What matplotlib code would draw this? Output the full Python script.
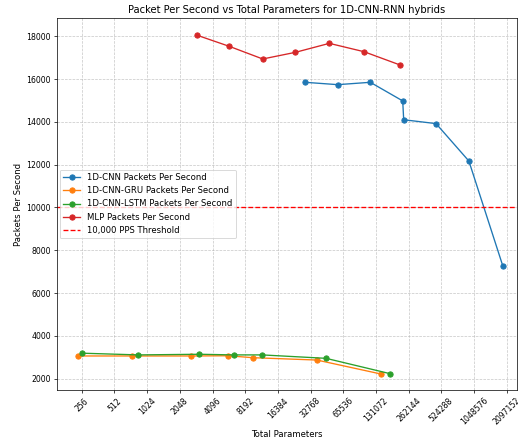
import matplotlib
matplotlib.use("Agg")
import matplotlib.pyplot as plt

cnn_params = [29100, 58200, 116100, 230700, 235500, 467500, 938000, 1930000]
cnn_pps = [15850, 15740, 15850, 14980, 14100, 13920, 12170, 7250]

gru_params = [237, 739, 2614, 5730, 9600, 37400, 144700]
gru_pps = [3060, 3060, 3060, 3070, 2980, 2870, 2220]

lstm_params = [259, 850, 3100, 6420, 11700, 45400, 177500]
lstm_pps = [3190, 3110, 3140, 3110, 3110, 2950, 2230]

mlp_params = [2950, 5850, 11870, 23700, 48700, 101600, 217900]
mlp_pps = [18050, 17530, 16940, 17250, 17670, 17280, 16660]

threshold = 10000
xticks = [2 ** k for k in range(8, 22)]

dpi = 64
fig = plt.figure(figsize=(518 / dpi, 443 / dpi), dpi=dpi)
ax = fig.add_axes([57 / 518, 1 - 390 / 443, (517 - 57) / 518, (390 - 18) / 443])

ax.plot(cnn_params, cnn_pps, marker='o', color='tab:blue', label='1D-CNN Packets Per Second')
ax.plot(gru_params, gru_pps, marker='o', color='tab:orange', label='1D-CNN-GRU Packets Per Second')
ax.plot(lstm_params, lstm_pps, marker='o', color='tab:green', label='1D-CNN-LSTM Packets Per Second')
ax.plot(mlp_params, mlp_pps, marker='o', color='tab:red', label='MLP Packets Per Second')
ax.axhline(threshold, color='r', linestyle='--', label='10,000 PPS Threshold')

ax.set_xscale('log', base=2)
ax.set_xticks(xticks)
ax.set_xticklabels([str(t) for t in xticks], rotation=45)
ax.minorticks_off()
ax.set_xlim(2 ** 7.245, 2 ** 21.31)
ax.set_ylim(1470, 18855)
ax.tick_params(axis='both', labelsize=8.7)

ax.set_xlabel('Total Parameters', fontsize=9.5)
ax.set_ylabel('Packets Per Second', fontsize=9.5)
ax.set_title('Packet Per Second vs Total Parameters for 1D-CNN-RNN hybrids', fontsize=11.3)
ax.grid(True, linestyle='--', alpha=0.7)
ax.legend(loc='center left', fontsize=9.6, borderaxespad=0.3)

fig.savefig('out.png', dpi=dpi)
